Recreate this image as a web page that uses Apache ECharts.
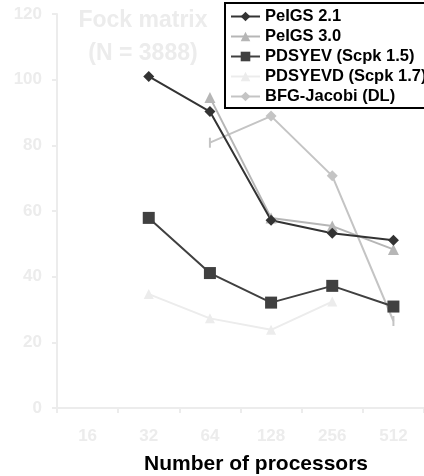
<!DOCTYPE html>
<html>
<head>
<meta charset="utf-8">
<script src="https://cdn.jsdelivr.net/npm/echarts@6/dist/echarts.min.js"></script>
<style>
  html, body { margin: 0; padding: 0; background: #fff; }
  #chart { width: 424px; height: 476px; }
</style>
</head>
<body>
<div id="chart"></div>
<script>
// Processor counts on the x axis
const processors = ['16', '32', '64', '128', '256', '512'];
const yTicks = [0, 20, 40, 60, 80, 100, 120];

// Timings per solver (null = not measured)
const peigs21   = [null, 101, 90.3, 57.2, 53.2, 51.1];
const peigs30   = [null, null, 94.6, 57.9, 55.4, 48.3];
const pdsyev    = [null, 57.9, 41.1, 32.1, 37.2, 30.9];
const pdsyevd   = [null, 34.7, 27.3, 23.8, 32.4, null];
const bfgJacobi = [null, null, 80.8, 88.9, 70.7, 26.5];

const FONT = 'Liberation Sans, Arial, sans-serif';
const chart = echarts.init(document.getElementById('chart'), null, { renderer: 'canvas' });

// BFG-Jacobi end points are drawn as short vertical ticks
const bfgData = bfgJacobi.map((v, i) => {
  if (v === null) return null;
  if (i === 2 || i === 5) return { value: v, symbol: 'rect', symbolSize: [2, 10] };
  return v;
});

function lineSeries(name, data, color, symbol, size) {
  return {
    name, type: 'line', data,
    symbol, symbolSize: size,
    connectNulls: false,
    lineStyle: { color, width: 2 },
    itemStyle: { color },
    emphasis: { disabled: true },
    animation: false
  };
}

chart.setOption({
  animation: false,
  backgroundColor: '#ffffff',
  textStyle: { fontFamily: FONT },
  grid: { left: 57, top: 14, width: 373, height: 394, containLabel: false },
  title: [
    {
      text: 'Fock matrix\n(N = 3888)',
      left: 143, top: 4, padding: 0, textAlign: 'center',
      textStyle: { color: '#ececec', fontSize: 23, fontWeight: 'bold', fontFamily: FONT, lineHeight: 33 }
    },
    {
      text: 'Number of processors',
      left: 256, top: 454, padding: 0, textAlign: 'center',
      textStyle: { color: '#000', fontSize: 21, fontWeight: 'bold', fontFamily: FONT }
    }
  ],
  legend: {
    orient: 'vertical',
    left: 225, top: 3,
    padding: [5, 40, 3, 5],
    itemGap: 3,
    itemWidth: 29, itemHeight: 12,
    backgroundColor: '#ffffff',
    borderColor: '#000', borderWidth: 2, borderRadius: 0,
    textStyle: { color: '#000', fontSize: 16.5, fontWeight: 'bold', fontFamily: FONT, lineHeight: 16 },
    data: ['PeIGS 2.1', 'PeIGS 3.0', 'PDSYEV (Scpk 1.5)', 'PDSYEVD (Scpk 1.7)', 'BFG-Jacobi (DL)']
  },
  xAxis: {
    type: 'category',
    data: processors,
    boundaryGap: true,
    axisLine: { lineStyle: { color: '#ececec', width: 2 } },
    axisTick: { show: true, length: 5, lineStyle: { color: '#ececec', width: 2 }, alignWithLabel: false },
    axisLabel: { color: '#ececec', fontSize: 17, fontWeight: 'bold', margin: 20, fontFamily: FONT },
    splitLine: { show: false }
  },
  yAxis: {
    type: 'value',
    min: yTicks[0], max: yTicks[yTicks.length - 1], interval: 20,
    axisLine: { show: true, lineStyle: { color: '#ececec', width: 2 } },
    axisTick: { show: true, length: 5, lineStyle: { color: '#ececec', width: 2 } },
    axisLabel: { color: '#ececec', fontSize: 17, fontWeight: 'bold', margin: 15, fontFamily: FONT },
    splitLine: { show: false }
  },
  series: [
    lineSeries('PDSYEVD (Scpk 1.7)', pdsyevd, '#ececec', 'triangle', 10),
    lineSeries('BFG-Jacobi (DL)', bfgData, '#c4c4c4', 'diamond', 11),
    lineSeries('PeIGS 3.0', peigs30, '#b6b6b6', 'triangle', 11),
    lineSeries('PDSYEV (Scpk 1.5)', pdsyev, '#404040', 'rect', 12),
    lineSeries('PeIGS 2.1', peigs21, '#333333', 'diamond', 11)
  ]
});
</script>
</body>
</html>
